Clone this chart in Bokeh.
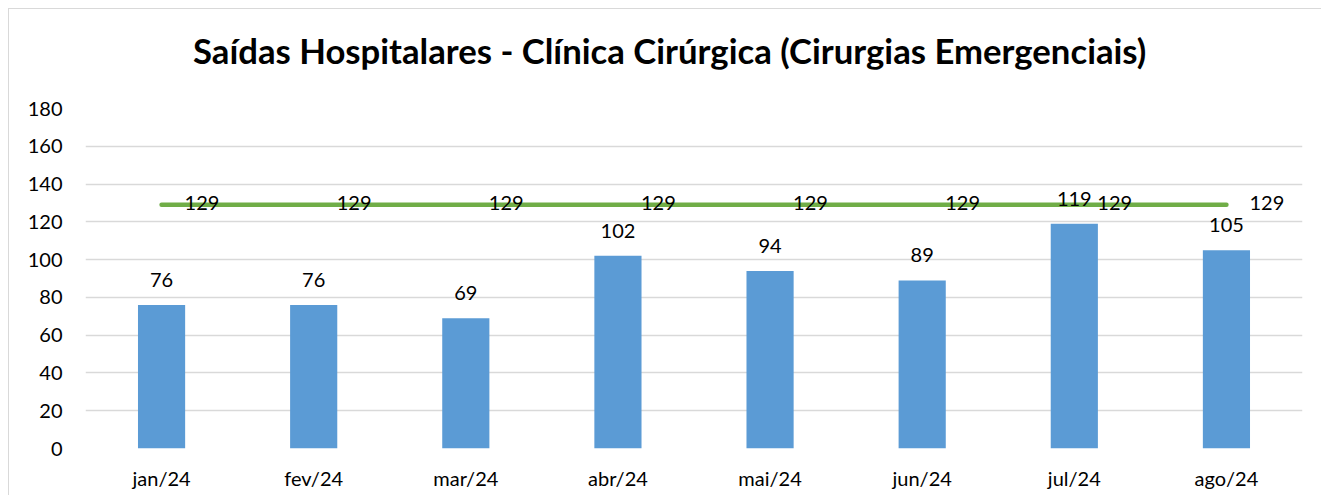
from bokeh.plotting import figure
from bokeh.models import ColumnDataSource, Range1d, FixedTicker, Div
from bokeh.layouts import column
from bokeh.embed import file_html
from bokeh.resources import INLINE
from bokeh.core.properties import value

months = ["jan/24", "fev/24", "mar/24", "abr/24", "mai/24", "jun/24", "jul/24", "ago/24"]
saidas = [76, 76, 69, 102, 94, 89, 119, 105]
meta = [129, 129, 129, 129, 129, 129, 129, 129]
y_ticks = [0, 20, 40, 60, 80, 100, 120, 140, 160, 180]
title_text = "Saídas Hospitalares - Clínica Cirúrgica (Cirurgias Emergenciais)"

FONT = "Lato"
TITLE_H = 60

src = ColumnDataSource(dict(
    m=months, s=saidas, t=meta,
    sl=[str(v) for v in saidas], tl=[str(v) for v in meta],
))

title_div = Div(
    text=('<div style="font-family: Lato, sans-serif; font-weight: bold; font-size: 34.7px; '
          'line-height: 1.2; color: #000000; white-space: nowrap; '
          'padding-top: 21px; padding-left: 184px; margin: 0;">' + title_text + '</div>'),
    width=1312, height=TITLE_H, margin=0,
)

p = figure(x_range=months, y_range=Range1d(0, 180), width=1312, height=486 - TITLE_H,
           output_backend="svg", toolbar_location=None, margin=0,
           min_border_left=76, min_border_right=19, min_border_top=99 - TITLE_H,
           min_border_bottom=47)

p.vbar(x="m", top="s", width=0.31, source=src, fill_color="#5B9BD5", line_color=None)
p.line(x="m", y="t", source=src, line_color="#70AD47", line_width=4.5, line_cap="round")

p.text(x="m", y="s", text="sl", source=src, text_align="center", text_baseline="alphabetic",
       y_offset=-25, text_font=value(FONT), text_font_size="20px", text_color="#000000")
p.text(x="m", y="t", text="tl", source=src, text_align="left", text_baseline="middle",
       x_offset=23, y_offset=-2, text_font=value(FONT), text_font_size="20px", text_color="#000000")

p.outline_line_color = None
p.xgrid.grid_line_color = None
p.ygrid.grid_line_color = "#d9d9d9"
p.ygrid.grid_line_width = 1.5
p.yaxis.ticker = FixedTicker(ticks=y_ticks)
for ax in (p.xaxis[0], p.yaxis[0]):
    ax.axis_line_color = None
    ax.major_tick_line_color = None
    ax.minor_tick_line_color = None
    ax.major_tick_out = 0
    ax.major_tick_in = 0
    ax.major_label_text_font = FONT
    ax.major_label_text_font_size = "20px"
    ax.major_label_text_color = "#000000"
p.yaxis.major_label_standoff = 23
p.xaxis.major_label_standoff = 17

layout = column(title_div, p, spacing=0,
                styles={"border-top": "1px solid #d9d9d9", "border-left": "1px solid #d9d9d9",
                        "margin-left": "8px", "margin-top": "8px", "background": "white"})

open("out.html", "w").write(file_html(layout, INLINE))
